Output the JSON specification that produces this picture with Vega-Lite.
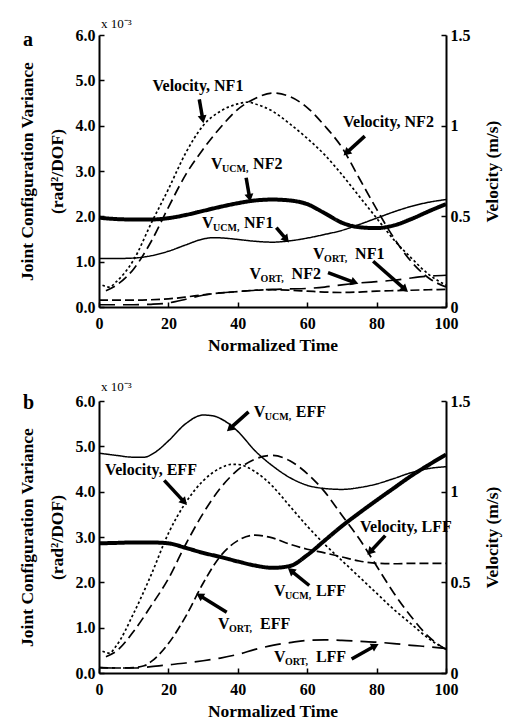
{
"$schema":"https://vega.github.io/schema/vega-lite/v6.json",
"padding":{"left":18,"top":18,"right":5,"bottom":4},
"config":{
 "font":"Liberation Serif",
 "view":{"stroke":null},
 "axis":{"grid":false,"domainColor":"black","domainWidth":2,"tickColor":"black","tickWidth":1.5,"tickSize":-5,"labelPadding":9,"labelColor":"black","labelFont":"Liberation Serif","labelFontSize":16,"labelFontWeight":"bold","titleColor":"black","titleFont":"Liberation Serif","titleFontSize":17.5,"titleFontWeight":"bold"},
 "text":{"font":"Liberation Serif","color":"black"}
},
"datasets":{
"la":[
{"s":"VUCM, NF1","t":0,"v":1.07},{"s":"VUCM, NF1","t":5,"v":1.07},{"s":"VUCM, NF1","t":10,"v":1.08},{"s":"VUCM, NF1","t":15,"v":1.13},{"s":"VUCM, NF1","t":20,"v":1.23},{"s":"VUCM, NF1","t":25,"v":1.37},{"s":"VUCM, NF1","t":30,"v":1.5},{"s":"VUCM, NF1","t":33,"v":1.53},{"s":"VUCM, NF1","t":36,"v":1.52},{"s":"VUCM, NF1","t":40,"v":1.49},{"s":"VUCM, NF1","t":45,"v":1.45},{"s":"VUCM, NF1","t":50,"v":1.43},{"s":"VUCM, NF1","t":55,"v":1.46},{"s":"VUCM, NF1","t":60,"v":1.52},{"s":"VUCM, NF1","t":65,"v":1.6},{"s":"VUCM, NF1","t":70,"v":1.69},{"s":"VUCM, NF1","t":75,"v":1.82},{"s":"VUCM, NF1","t":80,"v":1.96},{"s":"VUCM, NF1","t":85,"v":2.1},{"s":"VUCM, NF1","t":90,"v":2.22},{"s":"VUCM, NF1","t":95,"v":2.31},{"s":"VUCM, NF1","t":100,"v":2.37},
{"s":"VUCM, NF2","t":0,"v":1.97},{"s":"VUCM, NF2","t":5,"v":1.94},{"s":"VUCM, NF2","t":10,"v":1.93},{"s":"VUCM, NF2","t":15,"v":1.93},{"s":"VUCM, NF2","t":20,"v":1.96},{"s":"VUCM, NF2","t":25,"v":2.03},{"s":"VUCM, NF2","t":30,"v":2.12},{"s":"VUCM, NF2","t":35,"v":2.21},{"s":"VUCM, NF2","t":40,"v":2.29},{"s":"VUCM, NF2","t":45,"v":2.35},{"s":"VUCM, NF2","t":50,"v":2.37},{"s":"VUCM, NF2","t":55,"v":2.35},{"s":"VUCM, NF2","t":60,"v":2.27},{"s":"VUCM, NF2","t":65,"v":2.07},{"s":"VUCM, NF2","t":70,"v":1.86},{"s":"VUCM, NF2","t":75,"v":1.76},{"s":"VUCM, NF2","t":80,"v":1.74},{"s":"VUCM, NF2","t":85,"v":1.8},{"s":"VUCM, NF2","t":90,"v":1.94},{"s":"VUCM, NF2","t":95,"v":2.11},{"s":"VUCM, NF2","t":100,"v":2.27},
{"s":"VORT, NF1","t":0,"v":0.15},{"s":"VORT, NF1","t":5,"v":0.15},{"s":"VORT, NF1","t":10,"v":0.15},{"s":"VORT, NF1","t":15,"v":0.16},{"s":"VORT, NF1","t":20,"v":0.18},{"s":"VORT, NF1","t":25,"v":0.22},{"s":"VORT, NF1","t":30,"v":0.27},{"s":"VORT, NF1","t":35,"v":0.31},{"s":"VORT, NF1","t":40,"v":0.34},{"s":"VORT, NF1","t":45,"v":0.37},{"s":"VORT, NF1","t":50,"v":0.38},{"s":"VORT, NF1","t":55,"v":0.37},{"s":"VORT, NF1","t":60,"v":0.35},{"s":"VORT, NF1","t":65,"v":0.33},{"s":"VORT, NF1","t":70,"v":0.32},{"s":"VORT, NF1","t":75,"v":0.33},{"s":"VORT, NF1","t":80,"v":0.35},{"s":"VORT, NF1","t":85,"v":0.36},{"s":"VORT, NF1","t":90,"v":0.37},{"s":"VORT, NF1","t":95,"v":0.38},{"s":"VORT, NF1","t":100,"v":0.39},
{"s":"VORT, NF2","t":0,"v":0.05},{"s":"VORT, NF2","t":5,"v":0.05},{"s":"VORT, NF2","t":10,"v":0.05},{"s":"VORT, NF2","t":15,"v":0.06},{"s":"VORT, NF2","t":20,"v":0.09},{"s":"VORT, NF2","t":25,"v":0.17},{"s":"VORT, NF2","t":30,"v":0.26},{"s":"VORT, NF2","t":35,"v":0.31},{"s":"VORT, NF2","t":40,"v":0.34},{"s":"VORT, NF2","t":45,"v":0.37},{"s":"VORT, NF2","t":50,"v":0.39},{"s":"VORT, NF2","t":55,"v":0.4},{"s":"VORT, NF2","t":60,"v":0.41},{"s":"VORT, NF2","t":65,"v":0.44},{"s":"VORT, NF2","t":70,"v":0.49},{"s":"VORT, NF2","t":75,"v":0.53},{"s":"VORT, NF2","t":80,"v":0.56},{"s":"VORT, NF2","t":85,"v":0.59},{"s":"VORT, NF2","t":90,"v":0.64},{"s":"VORT, NF2","t":95,"v":0.68},{"s":"VORT, NF2","t":100,"v":0.7},
{"s":"Velocity, NF1","t":1,"v":0.12},{"s":"Velocity, NF1","t":3,"v":0.11},{"s":"Velocity, NF1","t":5,"v":0.14},{"s":"Velocity, NF1","t":10,"v":0.26},{"s":"Velocity, NF1","t":15,"v":0.46},{"s":"Velocity, NF1","t":20,"v":0.65},{"s":"Velocity, NF1","t":25,"v":0.85},{"s":"Velocity, NF1","t":30,"v":1.0},{"s":"Velocity, NF1","t":35,"v":1.08},{"s":"Velocity, NF1","t":40,"v":1.12},{"s":"Velocity, NF1","t":43,"v":1.13},{"s":"Velocity, NF1","t":45,"v":1.12},{"s":"Velocity, NF1","t":50,"v":1.08},{"s":"Velocity, NF1","t":55,"v":1.01},{"s":"Velocity, NF1","t":60,"v":0.93},{"s":"Velocity, NF1","t":65,"v":0.84},{"s":"Velocity, NF1","t":70,"v":0.73},{"s":"Velocity, NF1","t":75,"v":0.61},{"s":"Velocity, NF1","t":80,"v":0.49},{"s":"Velocity, NF1","t":85,"v":0.37},{"s":"Velocity, NF1","t":90,"v":0.27},{"s":"Velocity, NF1","t":95,"v":0.18},{"s":"Velocity, NF1","t":100,"v":0.12},
{"s":"Velocity, NF2","t":2,"v":0.09},{"s":"Velocity, NF2","t":5,"v":0.12},{"s":"Velocity, NF2","t":10,"v":0.21},{"s":"Velocity, NF2","t":15,"v":0.36},{"s":"Velocity, NF2","t":20,"v":0.55},{"s":"Velocity, NF2","t":25,"v":0.73},{"s":"Velocity, NF2","t":30,"v":0.87},{"s":"Velocity, NF2","t":35,"v":0.99},{"s":"Velocity, NF2","t":40,"v":1.09},{"s":"Velocity, NF2","t":45,"v":1.15},{"s":"Velocity, NF2","t":50,"v":1.18},{"s":"Velocity, NF2","t":55,"v":1.16},{"s":"Velocity, NF2","t":60,"v":1.1},{"s":"Velocity, NF2","t":65,"v":1.0},{"s":"Velocity, NF2","t":70,"v":0.88},{"s":"Velocity, NF2","t":75,"v":0.71},{"s":"Velocity, NF2","t":80,"v":0.54},{"s":"Velocity, NF2","t":85,"v":0.38},{"s":"Velocity, NF2","t":90,"v":0.25},{"s":"Velocity, NF2","t":95,"v":0.16},{"s":"Velocity, NF2","t":100,"v":0.11}
],
"lb":[
{"s":"VUCM, EFF","t":0,"v":4.85},{"s":"VUCM, EFF","t":5,"v":4.8},{"s":"VUCM, EFF","t":10,"v":4.76},{"s":"VUCM, EFF","t":13,"v":4.76},{"s":"VUCM, EFF","t":16,"v":4.86},{"s":"VUCM, EFF","t":20,"v":5.12},{"s":"VUCM, EFF","t":25,"v":5.5},{"s":"VUCM, EFF","t":30,"v":5.69},{"s":"VUCM, EFF","t":33,"v":5.67},{"s":"VUCM, EFF","t":36,"v":5.57},{"s":"VUCM, EFF","t":40,"v":5.33},{"s":"VUCM, EFF","t":45,"v":4.9},{"s":"VUCM, EFF","t":50,"v":4.57},{"s":"VUCM, EFF","t":55,"v":4.31},{"s":"VUCM, EFF","t":60,"v":4.14},{"s":"VUCM, EFF","t":65,"v":4.07},{"s":"VUCM, EFF","t":70,"v":4.05},{"s":"VUCM, EFF","t":75,"v":4.09},{"s":"VUCM, EFF","t":80,"v":4.17},{"s":"VUCM, EFF","t":85,"v":4.29},{"s":"VUCM, EFF","t":90,"v":4.42},{"s":"VUCM, EFF","t":95,"v":4.51},{"s":"VUCM, EFF","t":100,"v":4.55},
{"s":"VUCM, LFF","t":0,"v":2.86},{"s":"VUCM, LFF","t":5,"v":2.87},{"s":"VUCM, LFF","t":10,"v":2.88},{"s":"VUCM, LFF","t":15,"v":2.88},{"s":"VUCM, LFF","t":20,"v":2.86},{"s":"VUCM, LFF","t":25,"v":2.76},{"s":"VUCM, LFF","t":30,"v":2.65},{"s":"VUCM, LFF","t":35,"v":2.56},{"s":"VUCM, LFF","t":40,"v":2.46},{"s":"VUCM, LFF","t":45,"v":2.37},{"s":"VUCM, LFF","t":50,"v":2.32},{"s":"VUCM, LFF","t":55,"v":2.36},{"s":"VUCM, LFF","t":60,"v":2.6},{"s":"VUCM, LFF","t":65,"v":2.92},{"s":"VUCM, LFF","t":70,"v":3.24},{"s":"VUCM, LFF","t":75,"v":3.53},{"s":"VUCM, LFF","t":80,"v":3.81},{"s":"VUCM, LFF","t":85,"v":4.08},{"s":"VUCM, LFF","t":90,"v":4.35},{"s":"VUCM, LFF","t":95,"v":4.59},{"s":"VUCM, LFF","t":100,"v":4.82},
{"s":"VORT, EFF","t":0,"v":0.12},{"s":"VORT, EFF","t":5,"v":0.11},{"s":"VORT, EFF","t":10,"v":0.12},{"s":"VORT, EFF","t":13,"v":0.16},{"s":"VORT, EFF","t":15,"v":0.25},{"s":"VORT, EFF","t":20,"v":0.65},{"s":"VORT, EFF","t":25,"v":1.25},{"s":"VORT, EFF","t":30,"v":1.98},{"s":"VORT, EFF","t":35,"v":2.58},{"s":"VORT, EFF","t":40,"v":2.92},{"s":"VORT, EFF","t":45,"v":3.04},{"s":"VORT, EFF","t":50,"v":2.98},{"s":"VORT, EFF","t":55,"v":2.84},{"s":"VORT, EFF","t":60,"v":2.73},{"s":"VORT, EFF","t":65,"v":2.65},{"s":"VORT, EFF","t":70,"v":2.56},{"s":"VORT, EFF","t":75,"v":2.47},{"s":"VORT, EFF","t":80,"v":2.42},{"s":"VORT, EFF","t":85,"v":2.41},{"s":"VORT, EFF","t":90,"v":2.42},{"s":"VORT, EFF","t":95,"v":2.42},{"s":"VORT, EFF","t":100,"v":2.42},
{"s":"VORT, LFF","t":0,"v":0.12},{"s":"VORT, LFF","t":5,"v":0.11},{"s":"VORT, LFF","t":10,"v":0.11},{"s":"VORT, LFF","t":15,"v":0.14},{"s":"VORT, LFF","t":20,"v":0.18},{"s":"VORT, LFF","t":25,"v":0.22},{"s":"VORT, LFF","t":30,"v":0.27},{"s":"VORT, LFF","t":35,"v":0.33},{"s":"VORT, LFF","t":40,"v":0.41},{"s":"VORT, LFF","t":45,"v":0.52},{"s":"VORT, LFF","t":50,"v":0.61},{"s":"VORT, LFF","t":55,"v":0.67},{"s":"VORT, LFF","t":60,"v":0.72},{"s":"VORT, LFF","t":65,"v":0.73},{"s":"VORT, LFF","t":70,"v":0.72},{"s":"VORT, LFF","t":75,"v":0.7},{"s":"VORT, LFF","t":80,"v":0.68},{"s":"VORT, LFF","t":85,"v":0.65},{"s":"VORT, LFF","t":90,"v":0.61},{"s":"VORT, LFF","t":95,"v":0.58},{"s":"VORT, LFF","t":100,"v":0.54},
{"s":"Velocity, EFF","t":1,"v":0.12},{"s":"Velocity, EFF","t":3,"v":0.11},{"s":"Velocity, EFF","t":5,"v":0.15},{"s":"Velocity, EFF","t":10,"v":0.33},{"s":"Velocity, EFF","t":15,"v":0.54},{"s":"Velocity, EFF","t":20,"v":0.77},{"s":"Velocity, EFF","t":25,"v":0.94},{"s":"Velocity, EFF","t":30,"v":1.06},{"s":"Velocity, EFF","t":35,"v":1.13},{"s":"Velocity, EFF","t":38,"v":1.15},{"s":"Velocity, EFF","t":40,"v":1.15},{"s":"Velocity, EFF","t":45,"v":1.11},{"s":"Velocity, EFF","t":50,"v":1.03},{"s":"Velocity, EFF","t":55,"v":0.92},{"s":"Velocity, EFF","t":60,"v":0.81},{"s":"Velocity, EFF","t":65,"v":0.71},{"s":"Velocity, EFF","t":70,"v":0.62},{"s":"Velocity, EFF","t":75,"v":0.53},{"s":"Velocity, EFF","t":80,"v":0.44},{"s":"Velocity, EFF","t":85,"v":0.35},{"s":"Velocity, EFF","t":90,"v":0.27},{"s":"Velocity, EFF","t":95,"v":0.19},{"s":"Velocity, EFF","t":100,"v":0.13},
{"s":"Velocity, LFF","t":2,"v":0.09},{"s":"Velocity, LFF","t":5,"v":0.12},{"s":"Velocity, LFF","t":10,"v":0.23},{"s":"Velocity, LFF","t":15,"v":0.37},{"s":"Velocity, LFF","t":20,"v":0.52},{"s":"Velocity, LFF","t":25,"v":0.71},{"s":"Velocity, LFF","t":30,"v":0.88},{"s":"Velocity, LFF","t":35,"v":1.02},{"s":"Velocity, LFF","t":40,"v":1.12},{"s":"Velocity, LFF","t":45,"v":1.18},{"s":"Velocity, LFF","t":50,"v":1.2},{"s":"Velocity, LFF","t":55,"v":1.17},{"s":"Velocity, LFF","t":60,"v":1.1},{"s":"Velocity, LFF","t":65,"v":1.0},{"s":"Velocity, LFF","t":70,"v":0.87},{"s":"Velocity, LFF","t":75,"v":0.74},{"s":"Velocity, LFF","t":80,"v":0.59},{"s":"Velocity, LFF","t":85,"v":0.44},{"s":"Velocity, LFF","t":90,"v":0.31},{"s":"Velocity, LFF","t":95,"v":0.2},{"s":"Velocity, LFF","t":100,"v":0.13}
],
"aa":[
{"pre":"Velocity, NF1","sub":"","post":"","t":15.4,"v":4.88},
{"pre":"Velocity, NF2","sub":"","post":"","t":70.3,"v":4.09},
{"pre":"V","sub":"UCM,","post":"NF2","t":32.3,"v":3.15},
{"pre":"V","sub":"UCM,","post":"NF1","t":29.7,"v":1.86},
{"pre":"V","sub":"ORT,","post":"NF1","t":61.7,"v":1.16},
{"pre":"V","sub":"ORT,","post":"NF2","t":43.4,"v":0.72}
],
"ab":[
{"pre":"V","sub":"UCM,","post":"EFF","t":44.6,"v":5.76},
{"pre":"Velocity, EFF","sub":"","post":"","t":1.75,"v":4.47},
{"pre":"Velocity, LFF","sub":"","post":"","t":75.2,"v":3.22},
{"pre":"V","sub":"UCM,","post":"LFF","t":50.4,"v":1.8},
{"pre":"V","sub":"ORT,","post":"EFF","t":34.3,"v":1.08},
{"pre":"V","sub":"ORT,","post":"LFF","t":50.4,"v":0.35}
],
"ra":[
{"t1":28.9,"v1":4.58,"t2":29.9,"v2":4.14},
{"t1":76.6,"v1":3.77,"t2":71.3,"v2":3.4},
{"t1":42.4,"v1":2.85,"t2":43.4,"v2":2.41},
{"t1":51.1,"v1":1.75,"t2":54.0,"v2":1.49},
{"t1":79.0,"v1":1.01,"t2":88.2,"v2":0.39},
{"t1":66.0,"v1":0.76,"t2":73.7,"v2":0.54}
],
"rb":[
{"t1":43.1,"v1":5.76,"t2":37.7,"v2":5.39},
{"t1":18.8,"v1":4.25,"t2":24.6,"v2":3.77},
{"t1":82.5,"v1":3.03,"t2":78.1,"v2":2.67},
{"t1":60.6,"v1":1.93,"t2":55.3,"v2":2.26},
{"t1":36.8,"v1":1.34,"t2":29.0,"v2":1.71},
{"t1":72.8,"v1":0.31,"t2":79.6,"v2":0.6}
]
},
"spacing":27,
"vconcat":[
{
 "title":{"text":"a","anchor":"start","frame":"group","dx":-76,"dy":32,"offset":0,"fontSize":20,"fontWeight":"bold","font":"Liberation Serif","color":"black"},
 "width":347,"height":272,
 "resolve":{"scale":{"y":"independent"}},
 "layer":[
  {"layer":[
   {"data":{"name":"la"},
    "transform":[{"filter":{"field":"s","oneOf":["VUCM, NF1","VUCM, NF2","VORT, NF1","VORT, NF2"]}}],
    "mark":{"type":"line","interpolate":"monotone","color":"black"},
    "encoding":{
     "x":{"field":"t","type":"quantitative","scale":{"domain":[0,100]},"axis":{"values":[0,20,40,60,80,100],"title":"Normalized Time","labelFlush":false,"labelPadding":13,"titlePadding":5}},
     "y":{"field":"v","type":"quantitative","scale":{"domain":[0,6]},"axis":{"values":[0,1,2,3,4,5,6],"format":".1f","title":["Joint Configuration Variance","(rad²/DOF)"],"titleLineHeight":30,"titlePadding":9}},
     "strokeDash":{"field":"s","type":"nominal","scale":{"domain":["VUCM, NF1","VUCM, NF2","VORT, NF1","VORT, NF2","Velocity, NF1","Velocity, NF2"],"range":[[1,0],[1,0],[9,4],[16,8],[2.5,2.5],[10,5]]},"legend":null},
     "strokeWidth":{"field":"s","type":"nominal","scale":{"type":"ordinal","domain":["VUCM, NF1","VUCM, NF2","VORT, NF1","VORT, NF2","Velocity, NF1","Velocity, NF2"],"range":[1.5,4,1.7,1.7,1.7,1.7]},"legend":null}
    }},
   {"data":{"name":"aa"},"mark":{"type":"text","align":"left","baseline":"middle","fontSize":16,"fontWeight":"bold","color":"black"},
    "encoding":{"x":{"field":"t","type":"quantitative"},"y":{"field":"v","type":"quantitative"},"text":{"field":"pre"}}},
   {"data":{"name":"aa"},"mark":{"type":"text","align":"left","baseline":"middle","fontSize":10,"fontWeight":"bold","dx":11,"dy":5,"color":"black"},
    "encoding":{"x":{"field":"t","type":"quantitative"},"y":{"field":"v","type":"quantitative"},"text":{"field":"sub"}}},
   {"data":{"name":"aa"},"mark":{"type":"text","align":"left","baseline":"middle","fontSize":16,"fontWeight":"bold","dx":42,"color":"black"},
    "encoding":{"x":{"field":"t","type":"quantitative"},"y":{"field":"v","type":"quantitative"},"text":{"field":"post"}}},
   {"data":{"name":"ra"},"mark":{"type":"rule","strokeWidth":3.5,"color":"black"},
    "encoding":{"x":{"field":"t1","type":"quantitative"},"x2":{"field":"t2"},"y":{"field":"v1","type":"quantitative"},"y2":{"field":"v2"}}},
   {"data":{"name":"ra"},"transform":[{"calculate":"atan2((datum.t2-datum.t1)*3.47,(datum.v2-datum.v1)*45.33)*180/PI","as":"ang"}],
    "mark":{"type":"point","shape":"triangle-up","filled":true,"size":80,"color":"black","opacity":1},
    "encoding":{"x":{"field":"t2","type":"quantitative"},"y":{"field":"v2","type":"quantitative"},"angle":{"field":"ang","type":"quantitative","scale":null}}},
   {"data":{"values":[{}]},"mark":{"type":"text","align":"left","baseline":"middle","fontSize":13,"dx":2,"dy":-11,"text":"x 10⁻³","color":"black"},
    "encoding":{"x":{"datum":0},"y":{"datum":6}}}
  ]},
  {"data":{"name":"la"},
   "transform":[{"filter":{"field":"s","oneOf":["Velocity, NF1","Velocity, NF2"]}}],
   "mark":{"type":"line","interpolate":"monotone","color":"black"},
   "encoding":{
    "x":{"field":"t","type":"quantitative","scale":{"domain":[0,100]}},
    "y":{"field":"v","type":"quantitative","scale":{"domain":[0,1.5]},"axis":{"orient":"right","values":[0,0.5,1,1.5],"format":"~g","title":"Velocity (m/s)","titleAngle":270,"titleBaseline":"top","titlePadding":13}},
    "strokeDash":{"field":"s","type":"nominal","scale":{"domain":["VUCM, NF1","VUCM, NF2","VORT, NF1","VORT, NF2","Velocity, NF1","Velocity, NF2"],"range":[[1,0],[1,0],[9,4],[16,8],[2.5,2.5],[10,5]]},"legend":null},
    "strokeWidth":{"field":"s","type":"nominal","scale":{"type":"ordinal","domain":["VUCM, NF1","VUCM, NF2","VORT, NF1","VORT, NF2","Velocity, NF1","Velocity, NF2"],"range":[1.5,4,1.7,1.7,1.7,1.7]},"legend":null}
   }}
 ]
},
{
 "title":{"text":"b","anchor":"start","frame":"group","dx":-76,"dy":32,"offset":0,"fontSize":20,"fontWeight":"bold","font":"Liberation Serif","color":"black"},
 "width":347,"height":272,
 "resolve":{"scale":{"y":"independent"}},
 "layer":[
  {"layer":[
   {"data":{"name":"lb"},
    "transform":[{"filter":{"field":"s","oneOf":["VUCM, EFF","VUCM, LFF","VORT, EFF","VORT, LFF"]}}],
    "mark":{"type":"line","interpolate":"monotone","color":"black"},
    "encoding":{
     "x":{"field":"t","type":"quantitative","scale":{"domain":[0,100]},"axis":{"values":[0,20,40,60,80,100],"title":"Normalized Time","labelFlush":false,"labelPadding":13,"titlePadding":5}},
     "y":{"field":"v","type":"quantitative","scale":{"domain":[0,6]},"axis":{"values":[0,1,2,3,4,5,6],"format":".1f","title":["Joint Configuration Variance","(rad²/DOF)"],"titleLineHeight":30,"titlePadding":9}},
     "strokeDash":{"field":"s","type":"nominal","scale":{"domain":["VUCM, EFF","VUCM, LFF","VORT, EFF","VORT, LFF","Velocity, EFF","Velocity, LFF"],"range":[[1,0],[1,0],[8,3],[18,9],[2.5,2.5],[8,5]]},"legend":null},
     "strokeWidth":{"field":"s","type":"nominal","scale":{"type":"ordinal","domain":["VUCM, EFF","VUCM, LFF","VORT, EFF","VORT, LFF","Velocity, EFF","Velocity, LFF"],"range":[1.5,4,1.7,1.7,1.7,1.7]},"legend":null}
    }},
   {"data":{"name":"ab"},"mark":{"type":"text","align":"left","baseline":"middle","fontSize":16,"fontWeight":"bold","color":"black"},
    "encoding":{"x":{"field":"t","type":"quantitative"},"y":{"field":"v","type":"quantitative"},"text":{"field":"pre"}}},
   {"data":{"name":"ab"},"mark":{"type":"text","align":"left","baseline":"middle","fontSize":10,"fontWeight":"bold","dx":11,"dy":5,"color":"black"},
    "encoding":{"x":{"field":"t","type":"quantitative"},"y":{"field":"v","type":"quantitative"},"text":{"field":"sub"}}},
   {"data":{"name":"ab"},"mark":{"type":"text","align":"left","baseline":"middle","fontSize":16,"fontWeight":"bold","dx":42,"color":"black"},
    "encoding":{"x":{"field":"t","type":"quantitative"},"y":{"field":"v","type":"quantitative"},"text":{"field":"post"}}},
   {"data":{"name":"rb"},"mark":{"type":"rule","strokeWidth":3.5,"color":"black"},
    "encoding":{"x":{"field":"t1","type":"quantitative"},"x2":{"field":"t2"},"y":{"field":"v1","type":"quantitative"},"y2":{"field":"v2"}}},
   {"data":{"name":"rb"},"transform":[{"calculate":"atan2((datum.t2-datum.t1)*3.47,(datum.v2-datum.v1)*45.33)*180/PI","as":"ang"}],
    "mark":{"type":"point","shape":"triangle-up","filled":true,"size":80,"color":"black","opacity":1},
    "encoding":{"x":{"field":"t2","type":"quantitative"},"y":{"field":"v2","type":"quantitative"},"angle":{"field":"ang","type":"quantitative","scale":null}}},
   {"data":{"values":[{}]},"mark":{"type":"text","align":"left","baseline":"middle","fontSize":13,"dx":2,"dy":-14,"text":"x 10⁻³","color":"black"},
    "encoding":{"x":{"datum":0},"y":{"datum":6}}}
  ]},
  {"data":{"name":"lb"},
   "transform":[{"filter":{"field":"s","oneOf":["Velocity, EFF","Velocity, LFF"]}}],
   "mark":{"type":"line","interpolate":"monotone","color":"black"},
   "encoding":{
    "x":{"field":"t","type":"quantitative","scale":{"domain":[0,100]}},
    "y":{"field":"v","type":"quantitative","scale":{"domain":[0,1.5]},"axis":{"orient":"right","values":[0,0.5,1,1.5],"format":"~g","title":"Velocity (m/s)","titleAngle":270,"titleBaseline":"top","titlePadding":13}},
    "strokeDash":{"field":"s","type":"nominal","scale":{"domain":["VUCM, EFF","VUCM, LFF","VORT, EFF","VORT, LFF","Velocity, EFF","Velocity, LFF"],"range":[[1,0],[1,0],[8,3],[18,9],[2.5,2.5],[8,5]]},"legend":null},
    "strokeWidth":{"field":"s","type":"nominal","scale":{"type":"ordinal","domain":["VUCM, EFF","VUCM, LFF","VORT, EFF","VORT, LFF","Velocity, EFF","Velocity, LFF"],"range":[1.5,4,1.7,1.7,1.7,1.7]},"legend":null}
   }}
 ]
}
]
}
